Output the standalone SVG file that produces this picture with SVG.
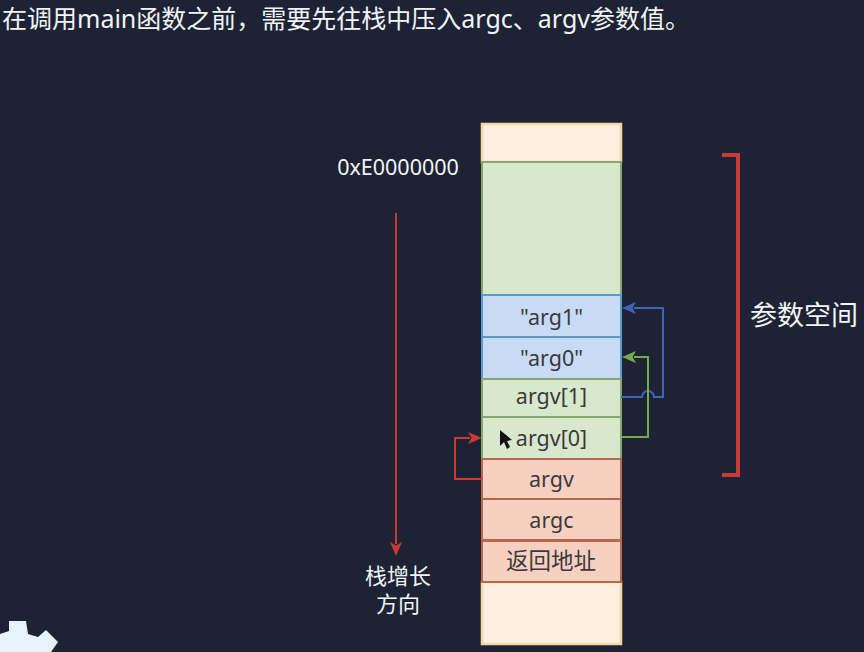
<svg xmlns="http://www.w3.org/2000/svg" width="864" height="652" viewBox="0 0 864 652">
<style>
text{font-family:"Noto Sans","Noto Sans CJK SC",sans-serif}
.c{text-anchor:middle;font-size:21.500px;fill:#3a3a3a}
.w{fill:#f2f4f6}
.l{fill:none;stroke-width:2}
.o{fill:#fdf0e3;stroke:#f5d7a0;stroke-width:2.5}
.g{fill:#d8e8cc;stroke:#87a66c;stroke-width:2}
.b{fill:#c8dbf6;stroke:#5a9ac9;stroke-width:2}
.r{fill:#f7d0c2;stroke:#b5694a;stroke-width:2}
</style>
<defs>
<marker id="ab" markerUnits="userSpaceOnUse" markerWidth="14" markerHeight="14" refX="2" refY="7" orient="auto"><path d="M14 7L0 1L3.500 7L0 13Z" fill="#3b66b5"/></marker>
<marker id="ag" markerUnits="userSpaceOnUse" markerWidth="14" markerHeight="14" refX="2" refY="7" orient="auto"><path d="M14 7L0 1L3.500 7L0 13Z" fill="#76ab4d"/></marker>
<marker id="ar" markerUnits="userSpaceOnUse" markerWidth="14" markerHeight="14" refX="2" refY="7" orient="auto"><path d="M14 7L0 1L3.500 7L0 13Z" fill="#c93a35"/></marker>
</defs>
<rect width="864" height="652" fill="#1d2335"/>
<text id="title" class="w" x="2" y="28" font-size="25">在调用main函数之前，需要先往栈中压入argc、argv参数值。</text>
<g id="stack-top"><rect class="o" x="482" y="124" width="139" height="38"/></g>
<g id="stack-bottom"><rect class="o" x="482" y="582" width="139" height="62"/></g>
<g id="args-space"><rect class="g" x="482" y="162" width="139" height="133"/></g>
<g id="arg1"><rect class="b" x="482" y="295" width="139" height="42"/><text class="c" x="551.500" y="325">"arg1"</text></g>
<g id="arg0"><rect class="b" x="482" y="337" width="139" height="42"/><text class="c" x="551.500" y="366">"arg0"</text></g>
<g id="argv1"><rect class="g" x="482" y="379" width="139" height="38"/><text class="c" x="551.500" y="404">argv[1]</text></g>
<g id="argv0"><rect class="g" x="482" y="417" width="139" height="42"/><text class="c" x="551.500" y="446">argv[0]</text></g>
<g id="argv"><rect class="r" x="482" y="459" width="139" height="40"/><text class="c" x="551.500" y="487">argv</text></g>
<g id="argc"><rect class="r" x="482" y="499" width="139" height="41"/><text class="c" x="551.500" y="528">argc</text></g>
<g id="ret"><rect class="r" x="482" y="541" width="139" height="41"/><text class="c" x="551" y="569" style="font-size:22.500px">返回地址</text></g>
<g id="connectors">
<path class="l" stroke="#3b66b5" marker-end="url(#ab)" d="M621 397H642A6 6 0 0 1 654 397H663V308H634"/>
<path class="l" stroke="#76ab4d" marker-end="url(#ag)" d="M621 437H648V357H634"/>
<path class="l" stroke="#c93a35" marker-end="url(#ar)" d="M482 479H455V438H470"/>
<path class="l" stroke="#c93a35" marker-end="url(#ar)" d="M396 213V544"/>
</g>
<g id="address"><text class="w" x="398" y="175" font-size="21.500" text-anchor="middle">0xE0000000</text></g>
<g id="growth"><text class="w" x="398" y="584" font-size="22" text-anchor="middle">栈增长</text><text class="w" x="398" y="612" font-size="22" text-anchor="middle">方向</text></g>
<g id="bracket"><path fill="none" stroke="#c93a35" stroke-width="4" d="M722 155H738V475H722"/><text class="w" x="750" y="325" font-size="27">参数空间</text></g>
<path id="cursor" d="M500 430V446L504 442L507 449L510 447L507 441L512 440Z" fill="#111"/>
<path id="gear" d="M9 621H26L28 634L38 637L46 630L58 642L51 652H0V634L9 631Z" fill="#e6f2fc"/>
</svg>
